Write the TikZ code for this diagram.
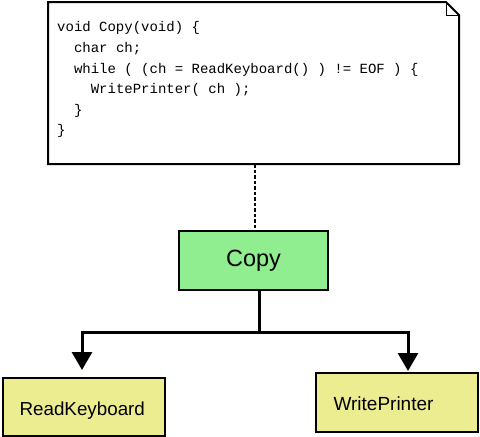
\documentclass[tikz,border=0pt]{standalone}
\usepackage{fontspec}
\setmainfont{Liberation Sans}
\setmonofont{Liberation Mono}
\usetikzlibrary{arrows.meta}
\definecolor{boxgreen}{RGB}{144,238,144}
\definecolor{boxyellow}{RGB}{236,236,144}
\tikzset{
  modbox/.style={draw=black,line width=2pt,minimum width=#1,inner sep=0pt},
  callarrow/.style={line width=3pt,-{Triangle[length=18pt,width=20pt]}},
}
\begin{document}
\begin{tikzpicture}[x=1pt,y=-1pt]
 \useasboundingbox (0,0) rectangle (480,437);
 % note with folded corner
 \draw [line width=2pt,fill=white] (48,2) -- (446,2) -- (459,15) -- (459,164) -- (48,164) -- cycle;
 \draw [line width=1pt] (446,2) -- (446,15) -- (459,15);
 \node (code) [anchor=north west,align=left,inner sep=0pt,font=\ttfamily\fontsize{14}{20.6}\selectfont] at (57,21.5)
  {void Copy(void) \{\\
   \phantom{xx}char ch;\\
   \phantom{xx}while ( (ch = ReadKeyboard() ) != EOF ) \{\\
   \phantom{xxxx}WritePrinter( ch );\\
   \phantom{xx}\}\\
   \}};
 \coordinate (notebot) at (255,164);
 % modules
 \node (copy) [modbox=149pt,minimum height=59pt,fill=boxgreen,font=\fontsize{23.5}{27}\selectfont] at (253.5,260.5) {Copy};
 \node (read) [modbox=162pt,minimum height=58pt,fill=boxyellow,anchor=north west] at (2,377) {};
 \node [anchor=base west,font=\fontsize{18.8}{22}\selectfont] at (16,415) {ReadKeyboard};
 \node (write) [modbox=162pt,minimum height=59pt,fill=boxyellow,anchor=north west] at (315,372) {};
 \node [anchor=base west,font=\fontsize{19}{23}\selectfont] at (330,410) {WritePrinter};
 % links
 \draw [line width=2.5pt,dash pattern=on 3.5pt off 2pt] (notebot) -- (notebot |- copy.north);
 \coordinate (fork) at (259,332);
 \draw [line width=3pt] (copy.south -| fork) -- (fork);
 \draw [callarrow] (fork) -| (82,370);
 \draw [callarrow] (fork) -| (408,371);
\end{tikzpicture}
\end{document}
